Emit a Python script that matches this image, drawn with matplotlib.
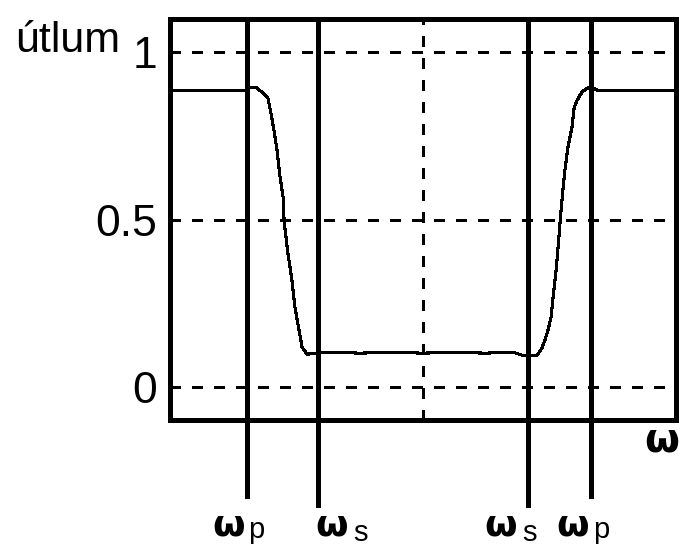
import matplotlib
matplotlib.use("Agg")
import matplotlib.pyplot as plt
import matplotlib.transforms as mtransforms

# Attenuation response of a band-stop filter (normalised frequency 0..2)
omega = [0.000, 0.304, 0.312, 0.340, 0.368, 0.387, 0.399, 0.411, 0.423, 0.435,
         0.447, 0.451, 0.466, 0.482, 0.494, 0.510, 0.522, 0.542, 0.585, 0.640,
         0.751, 0.870, 1.000, 1.126, 1.245, 1.356, 1.391, 1.451, 1.470, 1.482,
         1.494, 1.506, 1.514, 1.526, 1.534, 1.542, 1.553, 1.561, 1.573, 1.589,
         1.597, 1.609, 1.628, 1.648, 1.668, 1.688, 2.000]
utlum = [0.887, 0.887, 0.896, 0.896, 0.878, 0.863, 0.818, 0.767, 0.707, 0.627,
         0.567, 0.495, 0.399, 0.318, 0.237, 0.169, 0.118, 0.097, 0.100, 0.103,
         0.100, 0.103, 0.100, 0.103, 0.100, 0.103, 0.094, 0.094, 0.115, 0.139,
         0.169, 0.207, 0.267, 0.348, 0.417, 0.495, 0.588, 0.648, 0.717, 0.777,
         0.833, 0.857, 0.881, 0.893, 0.896, 0.887, 0.887]

# Band edges: passband (p) and stopband (s)
edge_freqs = [0.304, 0.585, 1.415, 1.664]
edge_names = ["p", "s", "s", "p"]

y_ticks = [0, 0.5, 1]
y_tick_labels = ["0", "0.5", "1"]
grid_y = [0, 0.5, 1]
grid_x = [1.0]

plt.rcParams["lines.scale_dashes"] = False
plt.rcParams["font.family"] = ["Liberation Sans", "DejaVu Sans"]

W, H, DPI = 680, 548, 100
fig = plt.figure(figsize=(W / DPI, H / DPI), dpi=DPI)
fig.patch.set_facecolor("white")
ax = fig.add_axes([170 / W, 1 - 420 / H, 506 / W, 401 / H])
ax.set_xlim(0, 2)
ax.set_ylim(-0.1, 1.1)

dash = (0, (7.2, 8.6))
for gy in grid_y:
    ax.axhline(gy, color="black", lw=1.9, ls=dash, antialiased=False, zorder=1)
for gx in grid_x:
    ax.axvline(gx, color="black", lw=1.9, ls=dash, antialiased=False, zorder=1)

ax.plot(omega, utlum, color="black", lw=1.5, antialiased=False, zorder=3)

# Band-edge markers, continuing below the frame
for f, name in zip(edge_freqs, edge_names):
    y_low = -0.334 if name == "p" else -0.361
    ax.plot([f, f], [y_low, 1.1], color="black", lw=2.2, clip_on=False,
            antialiased=False, solid_capstyle="butt", zorder=2)

for s in ax.spines.values():
    s.set_linewidth(2.2)
    s.set_antialiased(False)

ax.set_xticks([])
ax.set_yticks(y_ticks)
ax.set_yticklabels(y_tick_labels)
ax.tick_params(axis="y", length=0, pad=9.5, labelsize=32)

# Edge labels: omega with subscript below each marker
blend = mtransforms.blended_transform_factory(ax.transData, fig.transFigure)
om_dx = [-18.5, 14, -27, -18.5]
sub_dx = [1, 35, -6, 2]
for f, name, odx, sdx in zip(edge_freqs, edge_names, om_dx, sub_dx):
    t_om = mtransforms.offset_copy(blend, fig=fig, x=odx, y=0, units="dots")
    fig.text(f, 1 - 535 / H, "ω", transform=t_om, ha="center", va="baseline",
             fontsize=27, fontweight="bold", family="DejaVu Sans")
    t_sub = mtransforms.offset_copy(blend, fig=fig, x=sdx, y=0, units="dots")
    sub_y = 1 - 538 / H if name == "p" else 1 - 541 / H
    fig.text(f, sub_y, name, transform=t_sub, ha="left", va="baseline",
             fontsize=21)

fig.text(662 / W, 1 - 452 / H, "ω", ha="center", va="baseline",
         fontsize=29, fontweight="bold", family="DejaVu Sans")
fig.text(15 / W, 1 - 52 / H, "útlum", ha="left", va="baseline", fontsize=31)

fig.savefig("out.png", dpi=DPI, facecolor="white")
